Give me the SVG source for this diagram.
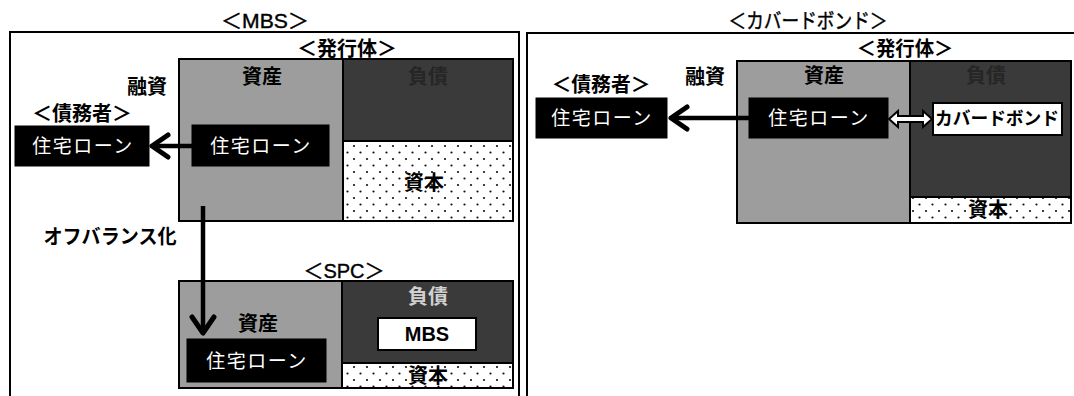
<svg xmlns="http://www.w3.org/2000/svg" width="1074" height="396" viewBox="0 0 1074 396">
<defs>
<pattern id="dots" width="13" height="13" patternUnits="userSpaceOnUse">
<rect width="13" height="13" fill="#ffffff"/>
<circle cx="3" cy="3" r="1.1" fill="#111"/>
<circle cx="9.5" cy="9.5" r="1.1" fill="#111"/>
</pattern>
<marker id="chev" markerUnits="userSpaceOnUse" viewBox="-24 -14 28 28" markerWidth="28" markerHeight="28" refX="0" refY="0" orient="auto">
<path d="M-16,-11 L0,0 L-16,11" fill="none" stroke="#000" stroke-width="5" stroke-linejoin="round" stroke-linecap="round"/>
</marker>
</defs>
<style>
text{font-family:"Liberation Sans","Noto Sans CJK JP",sans-serif;text-anchor:middle;dominant-baseline:central;fill:#000}
.title{font-size:21px;stroke:#000;stroke-width:0.4px}
.hd{font-size:20px;font-weight:bold}
.lb{font-size:20px;font-weight:bold}
.wt{font-size:19px;fill:#ffffff;letter-spacing:1.5px}
.panel{fill:none;stroke:#000;stroke-width:2}
.asset{fill:#9d9d9d;stroke:#000;stroke-width:2}
.liab{fill:#3a3a3a;stroke:#000;stroke-width:2}
.cap{fill:url(#dots);stroke:#000;stroke-width:2}
.blk{fill:#000;stroke:#000;stroke-width:1}
.wbox{fill:#fff;stroke:#000;stroke-width:2}
.arr{stroke:#000;stroke-width:4.5;fill:none;marker-end:url(#chev)}
</style>
<rect width="1074" height="396" fill="#ffffff"/>

<g id="panel-mbs">
<text class="title" x="265" y="20" textLength="88" lengthAdjust="spacingAndGlyphs">＜MBS＞</text>
<rect class="panel" x="10" y="32" width="509" height="380"/>
</g>

<g id="mbs-issuer">
<text class="hd" x="347" y="49" textLength="100" lengthAdjust="spacingAndGlyphs">＜発行体＞</text>
<rect class="asset" x="179" y="59" width="164" height="162"/>
<rect class="liab" x="343" y="59" width="170" height="82"/>
<rect class="cap" x="343" y="141" width="170" height="80"/>
<text class="lb" x="262" y="77">資産</text>
<text class="lb" x="428" y="77" style="fill:#262626">負債</text>
<text class="lb" x="424" y="183">資本</text>
</g>

<g id="mbs-issuer-loan">
<rect class="blk" x="192" y="125" width="137" height="41"/>
<text class="wt" x="261" y="146">住宅ローン</text>
</g>

<g id="mbs-debtor">
<text class="hd" x="82" y="114" textLength="100" lengthAdjust="spacingAndGlyphs">＜債務者＞</text>
<rect class="blk" x="15" y="126" width="134" height="40"/>
<text class="wt" x="83" y="146">住宅ローン</text>
</g>

<g id="spc">
<text class="title" x="344" y="270" textLength="81" lengthAdjust="spacingAndGlyphs">＜SPC＞</text>
<rect class="asset" x="179" y="281" width="163" height="107"/>
<rect class="liab" x="342" y="281" width="171" height="82"/>
<rect class="cap" x="342" y="363" width="171" height="25"/>
<text class="lb" x="258" y="324">資産</text>
<text class="lb" x="428" y="297" style="fill:#d0d0d0">負債</text>
<text class="lb" x="428" y="376">資本</text>
</g>

<g id="spc-mbs">
<rect class="wbox" x="378" y="318" width="98" height="32"/>
<text class="lb" x="427" y="334">MBS</text>
</g>

<g id="spc-loan">
<rect class="blk" x="187" y="339" width="139" height="43"/>
<text class="wt" x="257" y="361">住宅ローン</text>
</g>

<g id="panel-cb">
<text class="title" x="808" y="20" textLength="159" lengthAdjust="spacingAndGlyphs">＜カバードボンド＞</text>
<rect class="panel" x="527" y="33" width="560" height="380"/>
</g>

<g id="cb-issuer">
<text class="hd" x="905" y="49" textLength="97" lengthAdjust="spacingAndGlyphs">＜発行体＞</text>
<rect class="asset" x="737" y="61" width="173" height="162"/>
<rect class="liab" x="910" y="61" width="161" height="136"/>
<rect class="cap" x="910" y="197" width="161" height="26"/>
<text class="lb" x="824" y="76">資産</text>
<text class="lb" x="986" y="76" style="fill:#262626">負債</text>
<text class="lb" x="988" y="210">資本</text>
</g>

<g id="cb-issuer-loan">
<rect class="blk" x="749" y="98" width="139" height="40"/>
<text class="wt" x="819" y="118">住宅ローン</text>
</g>

<g id="cb-bond">
<rect class="wbox" x="933" y="103" width="129" height="32"/>
<text class="lb" x="997" y="119" style="font-size:18px" textLength="124" lengthAdjust="spacingAndGlyphs">カバードボンド</text>
</g>

<g id="cb-debtor">
<text class="hd" x="601" y="85" textLength="99" lengthAdjust="spacingAndGlyphs">＜債務者＞</text>
<rect class="blk" x="536" y="98" width="131" height="40"/>
<text class="wt" x="602" y="118">住宅ローン</text>
</g>

<g id="connectors">
<line class="arr" x1="192" y1="146" x2="152" y2="146"/>
<text class="lb" x="147" y="87">融資</text>
<line class="arr" x1="203" y1="206" x2="203" y2="333"/>
<text class="lb" x="110" y="237" textLength="133" lengthAdjust="spacingAndGlyphs">オフバランス化</text>
<line class="arr" x1="749" y1="118" x2="671" y2="118"/>
<text class="lb" x="705" y="77">融資</text>
<polygon points="889,119 898,111 898,116 923,116 923,111 932,119 923,127 923,122 898,122 898,127" fill="#fff" stroke="#000" stroke-width="2" stroke-linejoin="miter"/>
</g>
</svg>
